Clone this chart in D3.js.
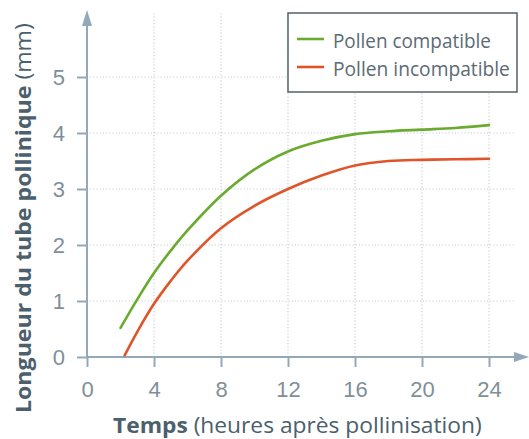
<!DOCTYPE html>
<html>
<head>
<meta charset="utf-8">
<script src="https://cdn.jsdelivr.net/npm/d3@7"></script>
<style>
  html, body { margin: 0; padding: 0; background: #fff; }
  svg { display: block; font-family: "Open Sans", "Noto Sans", sans-serif; }
</style>
</head>
<body>
<div class="chart-container"></div>
<script>
// Data
const hours = [2, 3, 4, 5, 6, 8, 10, 12, 14, 16, 18, 20, 22, 24];
const compatible = [0.52, 1.03, 1.5, 1.9, 2.26, 2.88, 3.35, 3.67, 3.86, 3.98, 4.03, 4.06, 4.09, 4.14];
const hoursIncompat = [2.25, 3, 4, 5, 6, 8, 10, 12, 14, 16, 18, 20, 22, 24];
const incompatible = [0.03, 0.45, 0.95, 1.36, 1.72, 2.3, 2.7, 3.0, 3.24, 3.42, 3.5, 3.52, 3.53, 3.54];
const xTicks = [0, 4, 8, 12, 16, 20, 24];
const yTicks = [0, 1, 2, 3, 4, 5];
const seriesNames = ["Pollen compatible", "Pollen incompatible"];

(function() {
  ////////////////////////////////////////////////////////////
  //// Setup /////////////////////////////////////////////////
  ////////////////////////////////////////////////////////////
  const chartWidth = 529;
  const chartHeight = 439;
  const axisColor = "#93a8b8";
  const gridColor = "#c9d0d6";
  const tickTextColor = "#7f8f99";
  const titleColor = "#4b606c";
  const colors = ["#6aaa2e", "#e0542a"];

  const xScale = d3.scaleLinear().domain([0, 24]).range([87, 489]);
  const yScale = d3.scaleLinear().domain([0, 5]).range([357, 77]);

  const svg = d3
    .select(".chart-container")
    .append("svg")
    .attr("width", chartWidth)
    .attr("height", chartHeight)
    .attr("viewBox", [0, 0, chartWidth, chartHeight]);

  // scale a text horizontally so it fills a given length
  function fit(text, length) {
    const w = text.node().getComputedTextLength();
    return length / w;
  }

  ////////////////////////////////////////////////////////////
  //// Grid //////////////////////////////////////////////////
  ////////////////////////////////////////////////////////////
  const gGrid = svg.append("g").attr("class", "grid");
  gGrid
    .selectAll(".vgrid")
    .data(xTicks.filter(d => d > 0))
    .join("line")
    .attr("class", "vgrid")
    .attr("x1", d => xScale(d))
    .attr("x2", d => xScale(d))
    .attr("y1", yScale(0))
    .attr("y2", 13)
    .attr("stroke", gridColor)
    .attr("stroke-width", 1.2)
    .attr("stroke-dasharray", "1.2,2");
  gGrid
    .selectAll(".hgrid")
    .data(yTicks.filter(d => d > 0))
    .join("line")
    .attr("class", "hgrid")
    .attr("x1", xScale(0))
    .attr("x2", 515)
    .attr("y1", d => yScale(d))
    .attr("y2", d => yScale(d))
    .attr("stroke", gridColor)
    .attr("stroke-width", 1.2)
    .attr("stroke-dasharray", "1.2,2");

  ////////////////////////////////////////////////////////////
  //// Axes //////////////////////////////////////////////////
  ////////////////////////////////////////////////////////////
  svg
    .append("g")
    .attr("class", "x axis")
    .attr("transform", `translate(0,${yScale(0)})`)
    .call(
      d3
        .axisBottom(xScale)
        .tickValues(xTicks)
        .tickFormat(d3.format("d"))
        .tickSize(10)
        .tickPadding(14)
    )
    .call(g => g.select(".domain").remove())
    .call(g => g.selectAll(".tick line").attr("stroke", axisColor).attr("stroke-width", 2))
    .call(g =>
      g
        .selectAll(".tick text")
        .attr("fill", tickTextColor)
        .attr("font-size", 22)
    );

  svg
    .append("g")
    .attr("class", "y axis")
    .attr("transform", `translate(${xScale(0)},0)`)
    .call(
      d3
        .axisLeft(yScale)
        .tickValues(yTicks)
        .tickFormat(d3.format("d"))
        .tickSize(10)
        .tickPadding(12)
    )
    .call(g => g.select(".domain").remove())
    .call(g => g.selectAll(".tick line").attr("stroke", axisColor).attr("stroke-width", 2))
    .call(g =>
      g
        .selectAll(".tick text")
        .attr("fill", tickTextColor)
        .attr("font-size", 22)
    );

  // axis lines with arrows
  svg
    .append("line")
    .attr("x1", xScale(0))
    .attr("x2", 518)
    .attr("y1", yScale(0))
    .attr("y2", yScale(0))
    .attr("stroke", axisColor)
    .attr("stroke-width", 2);
  svg
    .append("path")
    .attr("d", `M 529 ${yScale(0)} L 514 ${yScale(0) - 5} L 514 ${yScale(0) + 5} Z`)
    .attr("fill", axisColor);
  svg
    .append("line")
    .attr("x1", xScale(0))
    .attr("x2", xScale(0))
    .attr("y1", yScale(0))
    .attr("y2", 22)
    .attr("stroke", axisColor)
    .attr("stroke-width", 2);
  svg
    .append("path")
    .attr("d", `M ${xScale(0)} 10 L ${xScale(0) - 5} 26 L ${xScale(0) + 5} 26 Z`)
    .attr("fill", axisColor);

  // axis titles
  const xTitle = svg
    .append("text")
    .attr("fill", titleColor)
    .attr("font-size", 22);
  xTitle.append("tspan").attr("font-weight", "bold").text("Temps");
  xTitle.append("tspan").text(" (heures après pollinisation)");
  xTitle.attr("transform", `translate(113,433) scale(${fit(xTitle, 369)},1)`);

  const yTitle = svg
    .append("text")
    .attr("fill", titleColor)
    .attr("font-size", 22);
  yTitle.append("tspan").attr("font-weight", "bold").text("Longueur du tube pollinique");
  yTitle.append("tspan").text(" (mm)");
  yTitle.attr(
    "transform",
    `translate(31,413) rotate(-90) scale(${fit(yTitle, 390)},1)`
  );

  ////////////////////////////////////////////////////////////
  //// Lines /////////////////////////////////////////////////
  ////////////////////////////////////////////////////////////
  const line = d3
    .line()
    .x(d => xScale(d[0]))
    .y(d => yScale(d[1]))
    .curve(d3.curveCatmullRom.alpha(0.5));

  const series = [
    d3.zip(hours, compatible),
    d3.zip(hoursIncompat, incompatible)
  ];

  svg
    .append("g")
    .attr("class", "lines")
    .selectAll("path")
    .data(series)
    .join("path")
    .attr("d", line)
    .attr("fill", "none")
    .attr("stroke", (d, i) => colors[i])
    .attr("stroke-width", 2.6)
    .attr("stroke-linecap", "round");

  ////////////////////////////////////////////////////////////
  //// Legend ////////////////////////////////////////////////
  ////////////////////////////////////////////////////////////
  const gLegend = svg.append("g").attr("class", "legend");
  gLegend
    .append("rect")
    .attr("x", 288)
    .attr("y", 13)
    .attr("width", 229)
    .attr("height", 79)
    .attr("fill", "#fff")
    .attr("stroke", "#52616a")
    .attr("stroke-width", 1.5);

  const legendWidths = [158, 177];
  const items = gLegend
    .selectAll(".item")
    .data(seriesNames)
    .join("g")
    .attr("class", "item")
    .attr("transform", (d, i) => `translate(0,${39 + i * 28})`);
  items
    .append("line")
    .attr("x1", 297)
    .attr("x2", 324)
    .attr("stroke", (d, i) => colors[i])
    .attr("stroke-width", 2.6);
  items
    .append("text")
    .attr("fill", "#5b6b74")
    .attr("font-size", 20)
    .text(d => d)
    .each(function(d, i) {
      const t = d3.select(this);
      t.attr("transform", `translate(333,9) scale(${fit(t, legendWidths[i])},1)`);
    });
})();
</script>
</body>
</html>
